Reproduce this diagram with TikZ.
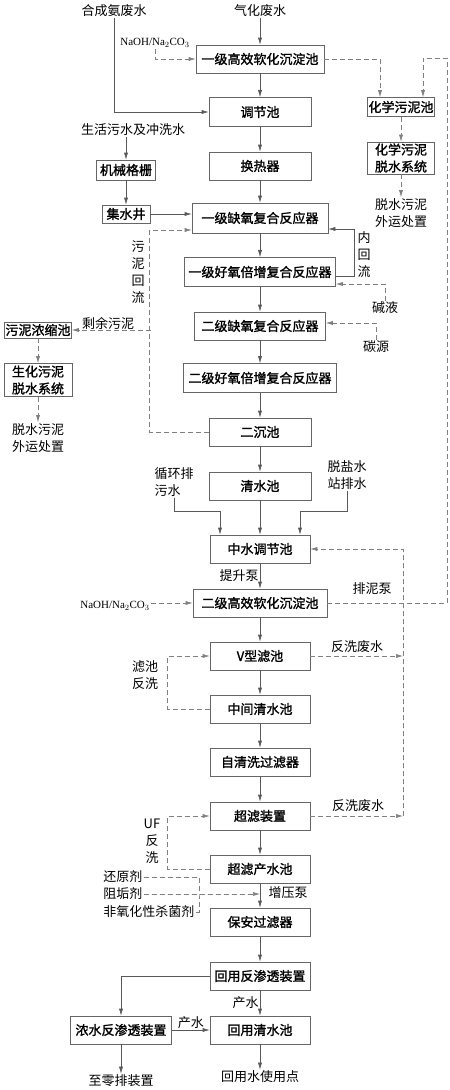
\documentclass[tikz,border=0pt]{standalone}
\usepackage{fontspec}
\setmainfont{Noto Sans CJK SC}[AutoFakeBold=1.5]
\newfontfamily\latinfont{Liberation Serif}
\usetikzlibrary{arrows.meta}
\tikzset{
  box/.style={draw=black!60,rectangle,minimum height=28bp,inner sep=1bp,align=center,font=\bfseries},
  lbl/.style={inner sep=1bp,align=center},
  dflow/.style={draw=black!50,dash pattern=on 5bp off 3bp},
  chem/.style={lbl,font=\latinfont\fontsize{11bp}{13bp}\selectfont},
}
\begin{document}
\fontsize{13bp}{17bp}\selectfont
\begin{tikzpicture}[x=1bp,y=-1bp,>={Latex[length=7bp,width=4bp]},line width=0.6bp,draw=black!65]
\useasboundingbox (0,0) rectangle (450,1090);
%% sources and first stage
\node (nh3) at (114,11) [lbl] {合成氨废水};
\node (gasw) at (260,11) [lbl] {气化废水};
\node (naoh1) at (155,43) [chem] {NaOH/Na$_2$CO$_3$};
\node (soft1) at (260,59) [box,minimum width=128bp] {一级高效软化沉淀池};
\node (adj) at (260,112) [box,minimum width=102bp,minimum height=29bp] {调节池};
\node (dom) at (133,130) [lbl] {生活污水及冲洗水};
\node (screen) at (126,170) [box,minimum width=59bp,minimum height=20bp] {机械格栅};
\node (heat) at (260,166) [box,minimum width=102bp] {换热器};
\node (chsl) at (401,107) [box,minimum width=67bp,minimum height=19bp] {化学污泥池};
\node (chdw) at (401,158) [box,minimum width=67bp,minimum height=32bp] {化学污泥\\脱水系统};
\node (chout) at (401,213) [lbl] {脱水污泥\\外运处置};
\node (well) at (126,214) [box,minimum width=48bp,minimum height=18bp] {集水井};
%% biological stage
\node (ano1) at (260,218) [box,minimum width=136bp,minimum height=30bp] {一级缺氧复合反应器};
\node (oxi1) at (260,272) [box,minimum width=151bp,minimum height=29bp] {一级好氧倍增复合反应器};
\node (ano2) at (260,326) [box,minimum width=131bp] {二级缺氧复合反应器};
\node (oxi2) at (260,378) [box,minimum width=153bp,minimum height=29bp] {二级好氧倍增复合反应器};
\node (sec) at (260,432) [box,minimum width=102bp] {二沉池};
\node (clear) at (260,486) [box,minimum width=102bp] {清水池};
\node (inner) at (364,255) [lbl] {内\\回\\流};
\node (alk) at (385,308) [lbl] {碱液};
\node (carb) at (376,347) [lbl] {碳源};
\node (sret) at (138,272) [lbl] {污\\泥\\回\\流};
\node (excess) at (108,323) [lbl] {剩余污泥};
\node (thick) at (38,330) [box,minimum width=67bp,minimum height=16bp] {污泥浓缩池};
\node (bio) at (38,380) [box,minimum width=68bp,minimum height=33bp] {生化污泥\\脱水系统};
\node (bioout) at (38,438) [lbl] {脱水污泥\\外运处置};
\coordinate (sx) at (151,330);
%% reuse stage
\node (circ) at (174,482) [lbl,align=left] {循环排\\污水};
\node (desal) at (347,475) [lbl,align=left] {脱盐水\\站排水};
\coordinate (jn) at (0,511);
\node (mid) at (260,549) [box,minimum width=100bp] {中水调节池};
\node (soft2) at (260,603) [box,minimum width=134bp] {二级高效软化沉淀池};
\node (naoh2) at (115,606) [chem] {NaOH/Na$_2$CO$_3$};
\node (mudpump) at (372,589) [lbl] {排泥泵};
\coordinate (sp) at (447,58);
\node (vf) at (260,656) [box,minimum width=100bp] {V型滤池};
\node (bwt1) at (357,647) [lbl] {反洗废水};
\node (fbw) at (145,675) [lbl] {滤池\\反洗};
\node (mclear) at (260,709) [box,minimum width=100bp] {中间清水池};
\node (self) at (260,762) [box,minimum width=100bp] {自清洗过滤器};
\node (uf) at (260,816) [box,minimum width=100bp] {超滤装置};
\node (bwt2) at (358,806) [lbl] {反洗废水};
\node (ufbw) at (152,841) [lbl] {UF\\反\\洗};
\coordinate (bwa) at (403,656);
\coordinate (bwb) at (403,816);
\node (ufout) at (260,869) [box,minimum width=100bp] {超滤产水池};
\node (red) at (102,877) [lbl,anchor=west] {还原剂};
\node (scale) at (102,894) [lbl,anchor=west] {阻垢剂};
\node (kill) at (102,912) [lbl,anchor=west] {非氧化性杀菌剂};
\coordinate (dos) at (199,894);
\node (boost) at (288,893) [lbl] {增压泵};
\node (guard) at (260,922) [box,minimum width=100bp] {保安过滤器};
\node (ro) at (260,976) [box,minimum width=100bp] {回用反渗透装置};
\node (reuse) at (260,1030) [box,minimum width=100bp] {回用清水池};
\node (cro) at (121,1030) [box,minimum width=101bp] {浓水反渗透装置};
\node (zld) at (121,1081) [lbl] {至零排装置};
\node (use) at (260,1077) [lbl] {回用水使用点};
%% connectors
\draw [->] (nh3) |- (adj);
\draw [->] (gasw) -- (soft1);
\draw [dflow,->] (naoh1) |- (soft1);
\draw [->] (soft1) -- (adj);
\draw [dflow,->] (soft1) -| ([xshift=-21bp]chsl.north);
\draw [dflow,->] (soft2) -| (sp) -| ([xshift=22bp]chsl.north);
\draw [dflow,->] (chsl) -- (chdw);
\draw [dflow,->] (chdw) -- (chout);
\draw [->] (adj) -- (heat);
\draw [->] (dom.south -| screen) -- (screen);
\draw [->] (screen) -- (well);
\draw [->] (well) -- (well -| ano1.west);
\draw [->] (heat) -- (ano1);
\draw [->] (ano1) -- (oxi1);
\draw [->] (oxi1) -- (ano2);
\draw [->] (ano2) -- (oxi2);
\draw [->] (oxi2) -- (sec);
\draw [->] (sec) -- (clear);
\draw [->] ([yshift=-4bp]oxi1.east) -- ++(18,0) |- ([yshift=-11bp]ano1.east);
\draw [dflow,->] (alk) |- ([yshift=-12bp]oxi1.east);
\draw [dflow,->] (carb) |- ([yshift=3bp]ano2.east);
\draw [dflow,->] (sec.west) -- ++(-59,0) |- ([yshift=-12bp]ano1.west);
\draw [dflow,->] (sx) -- (thick);
\draw [dflow,->] (thick) -- (bio);
\draw [dflow,->] (bio) -- (bioout);
\draw [->] (clear) -- (mid);
\draw [->] (circ.south) -- (circ.south |- jn) -| ([xshift=-40bp]mid.north);
\draw [->] (desal.south) -- (desal.south |- jn) -| ([xshift=40bp]mid.north);
\draw [->] (mid) -- node [lbl,left] {提升泵} (soft2);
\draw [dflow,->] (naoh2.east |- soft2) -- (soft2);
\draw [->] (soft2) -- (vf);
\draw [->] (vf) -- (mclear);
\draw [->] (mclear) -- (self);
\draw [->] (self) -- (uf);
\draw [->] (uf) -- (ufout);
\draw [dflow,->] (vf) -- (bwa);
\draw [dflow,->] (uf) -- (bwb);
\draw [dflow,->] (bwb) |- (mid);
\draw [dflow,->] (mclear.west) -- ++(-42,0) |- (vf);
\draw [dflow,->] (ufout.west) -- ++(-42,0) |- (uf);
\draw [dflow] (red.east) -| (dos) |- (kill.east);
\draw [dflow,->] (scale.east) -- (scale.east -| ufout.south);
\draw [->] (ufout) -- (guard);
\draw [->] (guard) -- (ro);
\draw [->] (ro) -- node [lbl,left] {产水} (reuse);
\draw [->] (ro) -| (cro);
\draw [->] (cro) -- node [lbl,above] {产水} (reuse);
\draw [->] (cro) -- (zld);
\draw [->] (reuse) -- (use);
%
\end{tikzpicture}
\end{document}
